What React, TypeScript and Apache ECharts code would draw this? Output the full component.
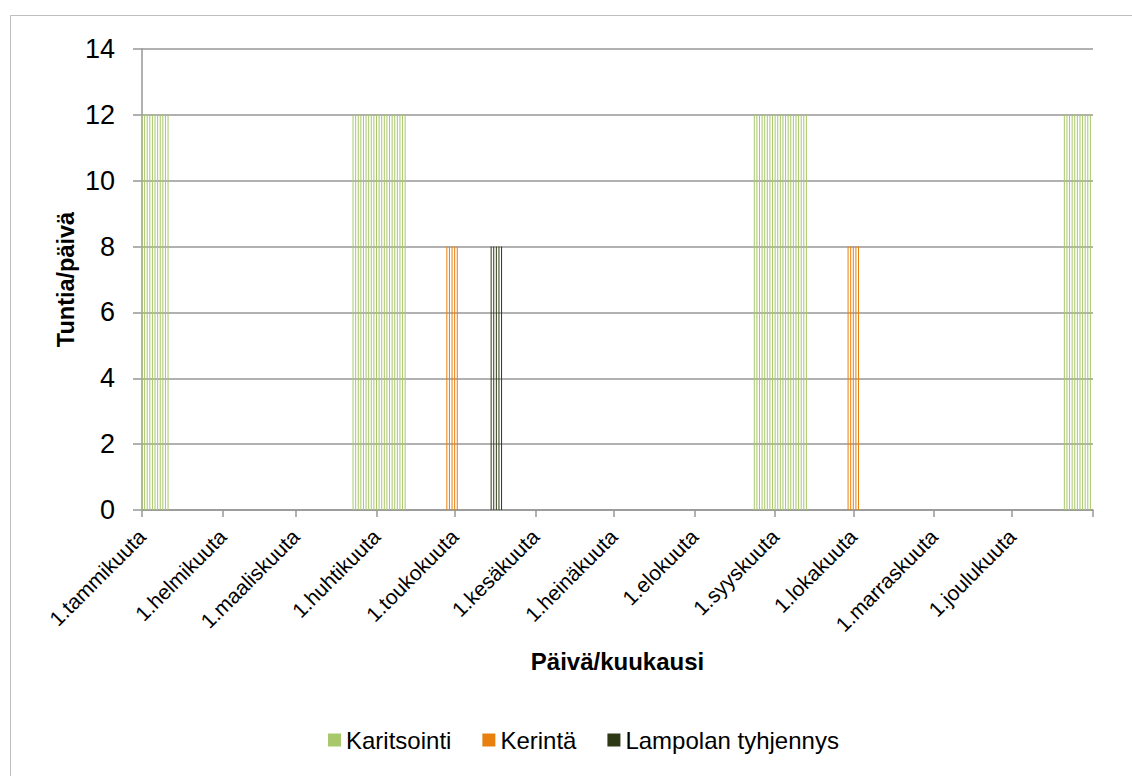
import { useEffect, useRef } from "react";
import * as echarts from "echarts";

// Kalenterivuosi (ei karkausvuosi), päivät lasketaan vuoden alusta
const YEAR = 2013;

// X-akselin kuukausien alkupäivät ja niiden nimet
const monthStarts = ["01-01", "02-01", "03-01", "04-01", "05-01", "06-01", "07-01", "08-01", "09-01", "10-01", "11-01", "12-01"];
const monthLabels = [
  "1.tammikuuta",
  "1.helmikuuta",
  "1.maaliskuuta",
  "1.huhtikuuta",
  "1.toukokuuta",
  "1.kesäkuuta",
  "1.heinäkuuta",
  "1.elokuuta",
  "1.syyskuuta",
  "1.lokakuuta",
  "1.marraskuuta",
  "1.joulukuuta",
];

// Y-akseli: tuntia/päivä
const yTicks = { min: 0, max: 14, step: 2 };

// Työjaksot: alku- ja loppupäivä (kk-pp) sekä tunnit päivässä
const karitsointi = [
  { from: "01-01", to: "01-11", hours: 12 },
  { from: "03-23", to: "04-12", hours: 12 },
  { from: "08-24", to: "09-13", hours: 12 },
  { from: "12-21", to: "12-31", hours: 12 },
];
const kerinta = [
  { from: "04-28", to: "05-02", hours: 8 },
  { from: "09-29", to: "10-03", hours: 8 },
];
const lampolanTyhjennys = [{ from: "05-15", to: "05-19", hours: 8 }];

const seriesNames = ["Karitsointi", "Kerintä", "Lampolan tyhjennys"];
const seriesColors = ["#A9C86B", "#E9800D", "#2D3A15"];

const DAY = 86400000;
const dayOfYear = (mmdd: string) => {
  const [m, d] = mmdd.split("-").map(Number);
  return Math.round((Date.UTC(YEAR, m - 1, d) - Date.UTC(YEAR, 0, 1)) / DAY);
};
const yearLength = Math.round((Date.UTC(YEAR + 1, 0, 1) - Date.UTC(YEAR, 0, 1)) / DAY);

type Period = { from: string; to: string; hours: number };
// Jokainen jakson päivä omaksi pylvääkseen
const dailyRows = (periods: Period[]) => {
  const rows: [number, number][] = [];
  periods.forEach((p) => {
    for (let d = dayOfYear(p.from); d <= dayOfYear(p.to); d++) rows.push([d, p.hours]);
  });
  return rows;
};

const FONT = "'Liberation Sans', Arial, Helvetica, sans-serif";
const AXIS_GRAY = "#979797";

export default function App() {
  const ref = useRef<HTMLDivElement>(null);

  useEffect(() => {
    if (!ref.current) return;
    const chart = echarts.init(ref.current, undefined, { renderer: "svg" });

    const labelDays = monthStarts.map(dayOfYear);
    const tickDays = [...labelDays, yearLength];
    const labelByDay: Record<number, string> = {};
    labelDays.forEach((d, i) => (labelByDay[d] = monthLabels[i]));

    const periodsList = [karitsointi, kerinta, lampolanTyhjennys];

    chart.setOption({
      animation: false,
      backgroundColor: "#ffffff",
      textStyle: { fontFamily: FONT },
      graphic: [
        {
          type: "rect",
          shape: { x: 10.5, y: 15.5, width: 1200, height: 900 },
          style: { fill: "none", stroke: "#BEBEBE", lineWidth: 1 },
          silent: true,
        },
      ],
      grid: { left: 142, right: 39, top: 49, bottom: 266, outerBoundsMode: "none" },
      legend: {
        left: 328,
        top: 728,
        padding: 0,
        itemWidth: 13,
        itemHeight: 13,
        itemGap: 31,
        icon: "rect",
        textStyle: { fontSize: 24, color: "#000", fontFamily: FONT },
        data: seriesNames.map((name, i) => ({ name, itemStyle: { color: seriesColors[i] } })),
      },
      xAxis: {
        type: "value",
        min: 0,
        max: yearLength,
        name: "Päivä/kuukausi",
        nameLocation: "middle",
        nameGap: 139,
        nameMoveOverlap: false,
        nameTextStyle: { fontSize: 24, fontWeight: "bold", color: "#000", fontFamily: FONT, verticalAlign: "top" },
        axisLine: { show: true, onZero: false, lineStyle: { color: AXIS_GRAY, width: 1.5 } },
        axisTick: { show: true, customValues: tickDays, length: 7, lineStyle: { color: AXIS_GRAY, width: 1.5 } },
        axisLabel: {
          customValues: labelDays,
          rotate: 45,
          margin: 23,
          fontSize: 21,
          color: "#000",
          fontFamily: FONT,
          formatter: (v: number) => labelByDay[v] ?? "",
        },
        splitLine: { show: false },
      },
      yAxis: {
        type: "value",
        min: yTicks.min,
        max: yTicks.max,
        interval: yTicks.step,
        name: "Tuntia/päivä",
        nameLocation: "middle",
        nameGap: 64,
        nameMoveOverlap: false,
        nameTextStyle: { fontSize: 23.5, fontWeight: "bold", color: "#000", fontFamily: FONT },
        axisLine: { show: true, lineStyle: { color: AXIS_GRAY, width: 1.5 } },
        axisTick: { show: true, length: 9, lineStyle: { color: AXIS_GRAY, width: 1.5 } },
        axisLabel: { fontSize: 27, color: "#000", margin: 27, fontFamily: FONT, padding: [3, 0, 0, 0] },
        splitLine: { show: true, lineStyle: { color: AXIS_GRAY, width: 1.5 } },
      },
      series: seriesNames.map((name, i) => ({
        name,
        type: "bar",
        barWidth: 1,
        barGap: "-100%",
        itemStyle: { color: seriesColors[i] },
        data: dailyRows(periodsList[i]),
      })),
    });

    return () => chart.dispose();
  }, []);

  return (
    <div
      ref={ref}
      style={{ position: "fixed", left: 0, top: 0, width: 1132, height: 776, background: "#fff" }}
    />
  );
}
